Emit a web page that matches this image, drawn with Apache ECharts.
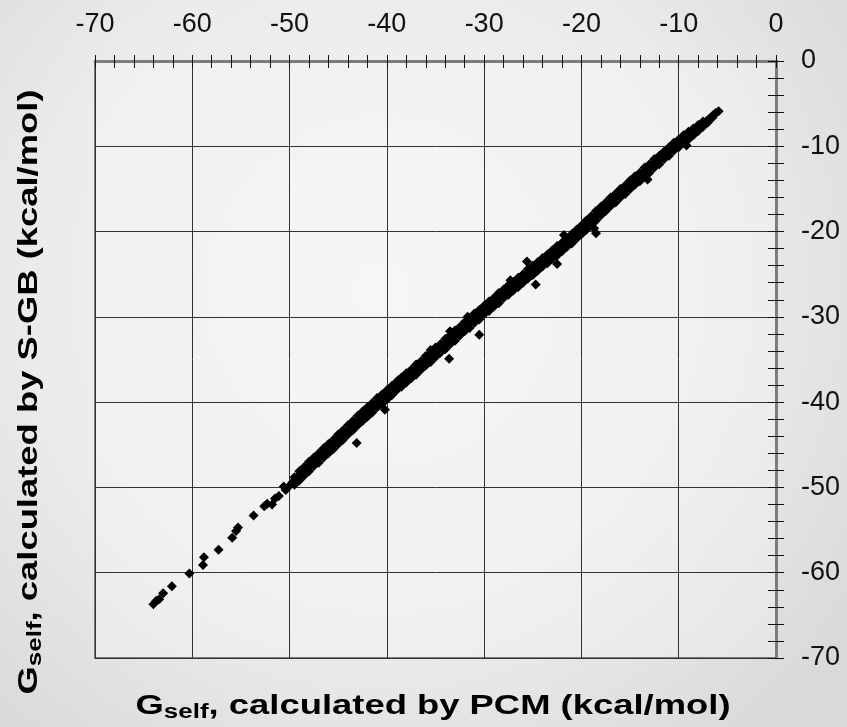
<!DOCTYPE html>
<html>
<head>
<meta charset="utf-8">
<script src="https://cdn.jsdelivr.net/npm/echarts@6/dist/echarts.min.js"></script>
<style>html,body{margin:0;padding:0;}#c{width:847px;height:727px;}</style>
</head>
<body>
<div id="c"></div>
<script>
// Axis ticks
const xTicks = [-70, -60, -50, -40, -30, -20, -10, 0];
const yTicks = [0, -10, -20, -30, -40, -50, -60, -70];

// [PCM, S-GB] pairs (kcal/mol)
const sparseTail = [
  [-64.0,-63.7],[-63.7,-63.3],[-63.4,-63.1],[-63.0,-62.4],[-62.1,-61.6],
  [-60.3,-60.1],[-58.9,-59.1],[-58.8,-58.2],[-57.3,-57.3],[-55.9,-55.9],
  [-55.5,-55.1],[-55.3,-54.7],[-53.7,-53.3],[-52.6,-52.2],[-52.3,-51.9],
  [-51.8,-52.0],[-51.5,-51.3],[-51.1,-51.0],[-50.6,-49.9],[-50.4,-50.3]
];
const bandCentre = [
  [-50.0,-49.8],[-49.7,-49.4],[-49.4,-49.2],[-49.1,-48.7],[-48.8,-48.5],[-48.5,-48.1],[-48.2,-47.9],[-47.9,-47.4],[-47.6,-47.2],[-47.3,-46.8],
  [-47.0,-46.6],[-46.7,-46.1],[-46.4,-45.9],[-46.1,-45.7],[-45.8,-45.2],[-45.5,-45.0],[-45.2,-44.5],[-44.9,-44.4],[-44.6,-44.0],[-44.3,-43.6],
  [-44.0,-43.4],[-43.7,-42.9],[-43.4,-42.7],[-43.1,-42.3],[-42.8,-42.1],[-42.5,-41.6],[-42.2,-41.4],[-41.9,-41.2],[-41.6,-40.7],[-41.3,-40.5],
  [-41.0,-40.1],[-40.7,-39.9],[-40.4,-39.4],[-40.1,-39.3],[-39.8,-38.9],[-39.5,-38.7],[-39.2,-38.3],[-38.9,-38.1],[-38.6,-37.6],[-38.3,-37.5],
  [-38.0,-37.1],[-37.7,-36.9],[-37.4,-36.5],[-37.1,-36.4],[-36.8,-35.9],[-36.5,-35.7],[-36.2,-35.3],[-35.9,-35.1],[-35.6,-34.9],[-35.3,-34.4],
  [-35.0,-34.2],[-34.7,-33.8],[-34.4,-33.6],[-34.1,-33.4],[-33.8,-32.9],[-33.5,-32.7],[-33.2,-32.3],[-32.9,-32.1],[-32.6,-31.9],[-32.3,-31.4],
  [-32.0,-31.2],[-31.7,-30.8],[-31.4,-30.6],[-31.1,-30.4],[-30.8,-29.9],[-30.5,-29.7],[-30.2,-29.3],[-29.9,-29.1],[-29.6,-28.9],[-29.3,-28.5],
  [-29.0,-28.3],[-28.7,-27.9],[-28.4,-27.7],[-28.1,-27.5],[-27.8,-27.1],[-27.5,-26.9],[-27.2,-26.5],[-26.9,-26.3],[-26.6,-26.1],[-26.3,-25.7],
  [-26.0,-25.5],[-25.7,-25.1],[-25.4,-24.9],[-25.1,-24.7],[-24.8,-24.3],[-24.5,-24.1],[-24.2,-23.7],[-23.9,-23.5],[-23.6,-23.3],[-23.3,-22.9],
  [-23.0,-22.7],[-22.7,-22.4],[-22.4,-22.2],[-22.1,-21.8],[-21.8,-21.6],[-21.5,-21.3],[-21.2,-21.1],[-20.9,-20.7],[-20.6,-20.5],[-20.3,-20.1],
  [-20.0,-19.8],[-19.7,-19.4],[-19.4,-19.2],[-19.1,-18.8],[-18.8,-18.4],[-18.5,-18.2],[-18.2,-17.8],[-17.9,-17.6],[-17.6,-17.2],[-17.3,-16.8],
  [-17.0,-16.6],[-16.7,-16.3],[-16.4,-15.9],[-16.1,-15.7],[-15.8,-15.3],[-15.5,-15.1],[-15.2,-14.7],[-14.9,-14.5],[-14.6,-14.1],[-14.3,-13.8],
  [-14.0,-13.6],[-13.7,-13.2],[-13.4,-12.9],[-13.1,-12.7],[-12.8,-12.3],[-12.5,-12.0],[-12.2,-11.8],[-11.9,-11.4],[-11.6,-11.1],[-11.3,-10.9],
  [-11.0,-10.5],[-10.7,-10.3],[-10.4,-9.9],[-10.1,-9.7],[-9.8,-9.4],[-9.5,-9.2],[-9.2,-8.8],[-8.9,-8.6],[-8.6,-8.3],[-8.3,-8.1],
  [-8.0,-7.8],[-7.7,-7.5],[-7.4,-7.3],[-7.1,-7.0],[-6.8,-6.7],[-6.5,-6.4],[-6.2,-6.1],[-5.9,-5.9]
];
const bandUpper = [
  [-49.5,-48.8],[-49.0,-48.1],[-48.5,-47.6],[-48.0,-47.0],[-47.5,-46.5],[-47.0,-46.0],[-46.5,-45.4],[-46.0,-44.9],[-45.5,-44.4],[-45.0,-43.8],
  [-44.5,-43.3],[-44.0,-42.7],[-43.5,-42.2],[-43.0,-41.6],[-42.5,-41.1],[-42.0,-40.6],[-41.5,-40.1],[-41.0,-39.5],[-40.5,-39.1],[-40.0,-38.6],
  [-39.5,-38.1],[-39.0,-37.6],[-38.5,-37.1],[-38.0,-36.6],[-37.5,-36.2],[-37.0,-35.6],[-36.5,-35.2],[-36.0,-34.6],[-35.5,-34.2],[-35.0,-33.6],
  [-34.5,-33.2],[-34.0,-32.6],[-33.5,-32.2],[-33.0,-31.6],[-32.5,-31.2],[-32.0,-30.6],[-31.5,-30.2],[-31.0,-29.6],[-30.5,-29.2],[-30.0,-28.7],
  [-29.5,-28.2],[-29.0,-27.8],[-28.5,-27.2],[-28.0,-26.8],[-27.5,-26.3],[-27.0,-25.9],[-26.5,-25.4],[-26.0,-25.0],[-25.5,-24.4],[-25.0,-24.0],
  [-24.5,-23.6],[-24.0,-23.1],[-23.5,-22.7],[-23.0,-22.2],[-22.5,-21.7],[-22.0,-21.3],[-21.5,-20.8],[-21.0,-20.3],[-20.5,-19.8],[-20.0,-19.3],
  [-19.5,-18.7],[-19.0,-18.2],[-18.5,-17.6],[-18.0,-17.1],[-17.5,-16.6],[-17.0,-16.0],[-16.5,-15.6],[-16.0,-15.0],[-15.5,-14.6],[-15.0,-14.0],
  [-14.5,-13.5],[-14.0,-13.1],[-13.5,-12.5],[-13.0,-12.1],[-12.5,-11.5],[-12.0,-11.1],[-11.5,-10.6],[-11.0,-10.1],[-10.5,-9.6],[-10.0,-9.2],
  [-9.5,-8.7],[-9.0,-8.3],[-8.5,-7.9],[-8.0,-7.5],[-7.5,-7.1]
];
const bandLower = [
  [-49.5,-49.7],[-49.0,-49.2],[-48.5,-48.6],[-48.0,-48.1],[-47.5,-47.5],[-47.0,-47.1],[-46.5,-46.5],[-46.0,-46.0],[-45.5,-45.5],[-45.0,-44.9],
  [-44.5,-44.4],[-44.0,-43.8],[-43.5,-43.3],[-43.0,-42.7],[-42.5,-42.2],[-42.0,-41.7],[-41.5,-41.2],[-41.0,-40.6],[-40.5,-40.2],[-40.0,-39.7],
  [-39.5,-39.2],[-39.0,-38.6],[-38.5,-38.2],[-38.0,-37.7],[-37.5,-37.2],[-37.0,-36.8],[-36.5,-36.2],[-36.0,-35.7],[-35.5,-35.3],[-35.0,-34.7],
  [-34.5,-34.2],[-34.0,-33.8],[-33.5,-33.2],[-33.0,-32.8],[-32.5,-32.2],[-32.0,-31.7],[-31.5,-31.3],[-31.0,-30.7],[-30.5,-30.3],[-30.0,-29.7],
  [-29.5,-29.3],[-29.0,-28.8],[-28.5,-28.4],[-28.0,-27.8],[-27.5,-27.4],[-27.0,-26.9],[-26.5,-26.5],[-26.0,-26.0],[-25.5,-25.5],[-25.0,-25.1],
  [-24.5,-24.6],[-24.0,-24.1],[-23.5,-23.7],[-23.0,-23.2],[-22.5,-22.8],[-22.0,-22.3],[-21.5,-21.8],[-21.0,-21.4],[-20.5,-20.8],[-20.0,-20.3],
  [-19.5,-19.8],[-19.0,-19.2],[-18.5,-18.7],[-18.0,-18.1],[-17.5,-17.6],[-17.0,-17.0],[-16.5,-16.6],[-16.0,-16.0],[-15.5,-15.6],[-15.0,-15.0],
  [-14.5,-14.5],[-14.0,-14.1],[-13.5,-13.5],[-13.0,-13.1],[-12.5,-12.5],[-12.0,-12.1],[-11.5,-11.5],[-11.0,-11.1],[-10.5,-10.5],[-10.0,-10.1],
  [-9.5,-9.6],[-9.0,-9.2],[-8.5,-8.7],[-8.0,-8.2],[-7.5,-7.7],[-7.0,-7.2],[-6.5,-6.6]
];
const outliers = [
  [-43.1,-44.8],[-45.1,-44.2],[-38.8,-37.4],[-35.5,-33.9],[-33.6,-34.9],[-33.5,-31.7],[-31.7,-30.0],[-30.5,-32.1],
  [-27.3,-25.7],[-25.6,-23.5],[-24.7,-26.2],[-22.5,-23.8],[-21.8,-20.4],[-18.5,-20.2],[-18.7,-19.6],[-14.9,-14.0],
  [-13.2,-13.9],[-11.8,-11.0],[-9.2,-9.9],[-46.5,-45.8],[-48.6,-47.9],[-40.2,-40.9],[-28.6,-27.6],[-16.4,-15.5]
];

const allPoints = sparseTail.concat(bandCentre, bandUpper, bandLower, outliers);

const chart = echarts.init(document.getElementById('c'), null, {renderer: 'canvas'});

const baseFont = 'Liberation Sans, Arial, sans-serif';

const xMain = {
  type: 'value', position: 'top', min: xTicks[0], max: xTicks[xTicks.length - 1], interval: 10,
  axisLine: {show: true, onZero: false, lineStyle: {color: '#7c7c7c', width: 3}},
  axisTick: {show: true, inside: false, length: 6, lineStyle: {color: '#111', width: 1}},
  minorTick: {show: true, splitNumber: 5, length: 6, lineStyle: {color: '#111', width: 1}},
  axisLabel: {show: true, fontSize: 27, fontFamily: baseFont, color: '#111', margin: 23},
  splitLine: {show: true, lineStyle: {color: '#333', width: 1}}
};
const xInner = {
  type: 'value', position: 'top', min: xTicks[0], max: xTicks[xTicks.length - 1], interval: 10,
  axisLine: {show: false, onZero: false},
  axisTick: {show: true, inside: true, length: 7, lineStyle: {color: '#111', width: 1}},
  minorTick: {show: true, splitNumber: 5, length: 7, lineStyle: {color: '#111', width: 1}},
  axisLabel: {show: false},
  splitLine: {show: false}
};
const yMain = {
  type: 'value', position: 'right', min: yTicks[yTicks.length - 1], max: yTicks[0], interval: 10,
  axisLine: {show: true, onZero: false, lineStyle: {color: '#7c7c7c', width: 3}},
  axisTick: {show: true, inside: false, length: 8, lineStyle: {color: '#111', width: 1}},
  minorTick: {show: true, splitNumber: 5, length: 8, lineStyle: {color: '#111', width: 1}},
  axisLabel: {show: true, fontSize: 27, fontFamily: baseFont, color: '#111', margin: 25},
  splitLine: {show: true, lineStyle: {color: '#333', width: 1}}
};
const yInner = {
  type: 'value', position: 'right', min: yTicks[yTicks.length - 1], max: yTicks[0], interval: 10,
  axisLine: {show: false, onZero: false},
  axisTick: {show: true, inside: true, length: 8, lineStyle: {color: '#111', width: 1}},
  minorTick: {show: true, splitNumber: 5, length: 8, lineStyle: {color: '#111', width: 1}},
  axisLabel: {show: false},
  splitLine: {show: false}
};

const titleRich = {
  g: {fontSize: 28, fontWeight: 'bold', fontFamily: baseFont, color: '#111'},
  s: {fontSize: 20, fontWeight: 'bold', fontFamily: baseFont, color: '#111', padding: [13, 0, 0, 0]},
  t: {fontSize: 28, fontWeight: 'bold', fontFamily: baseFont, color: '#111'}
};

chart.setOption({
  animation: false,
  backgroundColor: {
    type: 'radial', x: 0.45, y: 0.4, r: 0.8,
    colorStops: [
      {offset: 0, color: '#f3f3f3'},
      {offset: 0.6, color: '#ebebeb'},
      {offset: 1, color: '#d9d9d9'}
    ]
  },
  grid: {
    left: 95, right: 71, top: 61, bottom: 69, containLabel: false,
    show: true, backgroundColor: 'rgba(255,255,255,0.25)', borderColor: '#555', borderWidth: 1.5
  },
  xAxis: [xMain, xInner],
  yAxis: [yMain, yInner],
  graphic: [
    {
      type: 'text', x: 433, y: 706, scaleX: 1.3,
      style: {
        text: '{g|G}{s|self}{t|, calculated by PCM (kcal/mol)}',
        rich: titleRich, align: 'center', verticalAlign: 'middle'
      }
    },
    {
      type: 'text', x: 29, y: 392, rotation: Math.PI / 2, scaleX: 1.3,
      style: {
        text: '{g|G}{s|self}{t|, calculated by S-GB (kcal/mol)}',
        rich: titleRich, align: 'center', verticalAlign: 'middle'
      }
    }
  ],
  series: [{
    type: 'scatter', xAxisIndex: 0, yAxisIndex: 0,
    symbol: 'diamond', symbolSize: 10,
    itemStyle: {color: '#000', opacity: 1},
    data: allPoints
  }]
});
</script>
</body>
</html>
